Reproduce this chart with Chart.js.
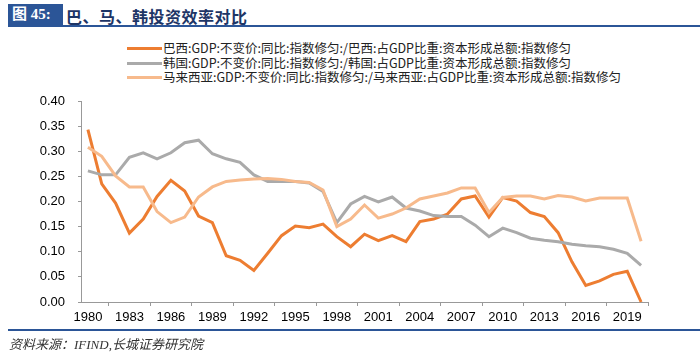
<!DOCTYPE html>
<html>
<head>
<meta charset="utf-8">
<script src="https://cdn.jsdelivr.net/npm/chart.js@4.4.0/dist/chart.umd.min.js"></script>
<style>
  body { margin: 0; width: 700px; height: 358px; background: #fff; position: relative; overflow: hidden; font-family: "Liberation Sans", "Noto Sans CJK SC", sans-serif; }
  #chartCanvas { position: absolute; left: 0; top: 0; }
  .title-box { position: absolute; left: 8px; top: 4px; width: 55px; height: 21px; background: #2B5597; color: #fff; font: bold 15px "Liberation Serif", "Noto Sans CJK SC", serif; line-height: 21px; padding-left: 4px; box-sizing: border-box; }
  .title-text { position: absolute; left: 66px; top: 4px; line-height: 21px; font: bold 16px "Noto Sans CJK SC", serif; color: #1d3566; letter-spacing: 0.5px; }
  .rule { position: absolute; left: 8px; right: 0; height: 2px; background: #2B5597; }
  .source { position: absolute; left: 9px; top: 334px; font: italic 13px "Liberation Serif", "Noto Sans CJK SC", serif; color: #333; }
  #legend { position: absolute; left: 127px; top: 41px; font: 12.5px "Noto Sans CJK SC", sans-serif; color: #222; }
  #legend .item { height: 14.5px; line-height: 14.5px; white-space: nowrap; }
  #legend .swatch { display: inline-block; width: 35px; height: 3px; vertical-align: middle; margin-right: 1px; position: relative; top: -1px; }
</style>
</head>
<body>
<div class="title-box">图 45:</div>
<div class="title-text">巴、马、韩投资效率对比</div>
<div class="rule" style="top:25px"></div>
<div id="legend"></div>
<canvas id="chartCanvas" width="700" height="358"></canvas>
<div class="rule" style="top:329px"></div>
<div class="source">资料来源：IFIND,长城证券研究院</div>
<script>
const years = ['1980','1981','1982','1983','1984','1985','1986','1987','1988','1989',
  '1990','1991','1992','1993','1994','1995','1996','1997','1998','1999',
  '2000','2001','2002','2003','2004','2005','2006','2007','2008','2009',
  '2010','2011','2012','2013','2014','2015','2016','2017','2018','2019','2020'];

const brazil = [0.343,0.235,0.197,0.137,0.165,0.21,0.242,0.221,0.171,0.158,
  0.092,0.083,0.063,0.097,0.132,0.151,0.148,0.155,0.13,0.11,
  0.135,0.122,0.132,0.12,0.16,0.165,0.175,0.205,0.211,0.169,
  0.208,0.201,0.178,0.17,0.138,0.08,0.033,0.042,0.055,0.061,0.0];

const korea = [0.261,0.253,0.253,0.288,0.297,0.285,0.297,0.317,0.322,0.295,
  0.285,0.278,0.253,0.24,0.24,0.24,0.237,0.22,0.158,0.195,
  0.21,0.199,0.209,0.187,0.181,0.172,0.17,0.17,0.153,0.13,
  0.147,0.138,0.127,0.123,0.12,0.115,0.112,0.11,0.105,0.097,0.073];

const malaysia = [0.308,0.29,0.251,0.229,0.229,0.18,0.158,0.169,0.209,0.229,
  0.24,0.243,0.245,0.246,0.244,0.24,0.238,0.223,0.15,0.165,
  0.193,0.167,0.175,0.187,0.205,0.211,0.217,0.227,0.227,0.178,
  0.208,0.211,0.211,0.205,0.212,0.209,0.201,0.207,0.207,0.207,0.121];

const seriesNames = [
  '巴西:GDP:不变价:同比:指数修匀:/巴西:占GDP比重:资本形成总额:指数修匀',
  '韩国:GDP:不变价:同比:指数修匀:/韩国:占GDP比重:资本形成总额:指数修匀',
  '马来西亚:GDP:不变价:同比:指数修匀:/马来西亚:占GDP比重:资本形成总额:指数修匀'
];
const yTicks = [0, 0.05, 0.1, 0.15, 0.2, 0.25, 0.3, 0.35, 0.4];

const colors = ['#ED7D31', '#AAAAAA', '#F7BA8C'];
const tickFont = { family: 'Liberation Sans', size: 13 };

const ctx = document.getElementById('chartCanvas').getContext('2d');
let chart = new Chart(ctx, {
    type: 'line',
    data: {
        labels: years,
        datasets: [brazil, korea, malaysia].map((d, i) => ({
            label: seriesNames[i],
            data: d,
            borderColor: colors[i],
            borderWidth: 3,
            pointRadius: 0,
            tension: 0,
            fill: false,
            clip: 4
        })).reverse()
    },
    options: {
        responsive: false,
        animation: false,
        events: [],
        layout: { padding: { top: 101, right: 52, left: 0, bottom: 0 } },
        plugins: { legend: { display: false }, tooltip: { enabled: false } },
        scales: {
            x: {
                offset: true,
                grid: { offset: true, drawOnChartArea: false, tickLength: 4, color: '#999' },
                border: { color: '#999' },
                ticks: {
                    autoSkip: false, maxRotation: 0, padding: 4, color: '#000', font: tickFont,
                    callback: function (v, i) { return i % 3 === 0 ? years[i] : null; }
                },
                afterFit: s => { s.height = 56; }
            },
            y: {
                min: 0, max: 0.4,
                afterBuildTicks: s => { s.ticks = yTicks.map(v => ({ value: v })); },
                grid: { drawOnChartArea: false, tickLength: 3, color: '#999' },
                border: { color: '#999' },
                ticks: { padding: 13, color: '#000', font: tickFont, callback: v => v.toFixed(2) },
                afterFit: s => { s.width = 81; }
            }
        }
    }
});

const legend = document.getElementById('legend');
seriesNames.forEach((name, i) => {
    const row = document.createElement('div');
    row.className = 'item';
    row.innerHTML = '<span class="swatch" style="background:' + colors[i] + '"></span>' + name;
    legend.appendChild(row);
});
</script>
</body>
</html>
